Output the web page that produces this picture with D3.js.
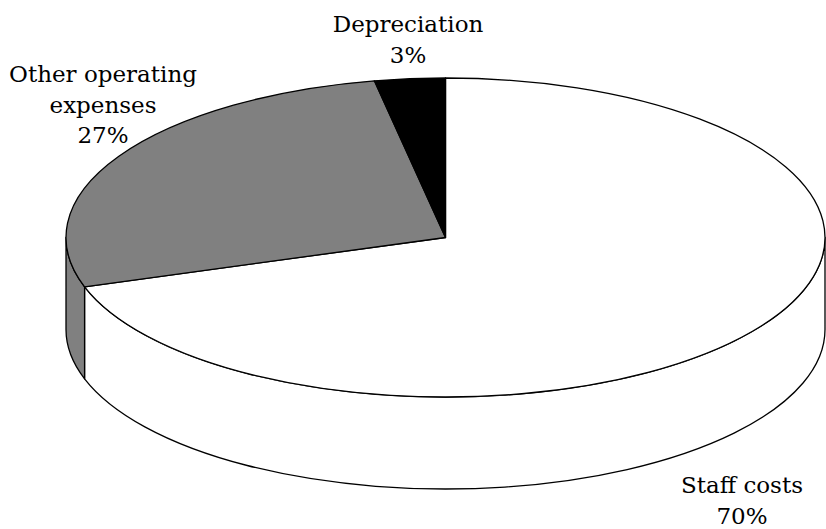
<!DOCTYPE html>
<html>
<head>
<meta charset="utf-8">
<script src="https://cdn.jsdelivr.net/npm/d3@7"></script>
<style>
  html, body { margin: 0; padding: 0; background: #fff; }
  svg { display: block; }
  text { font-family: "DejaVu Serif", serif; font-size: 23px; fill: #000; }
</style>
</head>
<body>
<svg id="chart" width="826" height="529"></svg>
<script>
// Cost breakdown (share of total, %)
const categories = ["Staff costs", "Other operating expenses", "Depreciation"];
const shares = [70, 27, 3];
const labelLines = [["Staff costs", "70%"], ["Other operating", "expenses", "27%"], ["Depreciation", "3%"]];
const fills = ["#ffffff", "#808080", "#000000"];

const W = 826, H = 529;
const cx = 445.5, cy = 237.5;   // centre of the top face
const rx = 379.5, ry = 159.5;   // ellipse radii of the tilted disc
const depth = 92;               // thickness of the disc

// label anchors (centre x, first baseline y)
const labelPos = [[742, 493], [103, 82], [408, 32]];
const lineGap = 30.5;

const svg = d3.select("#chart");

const pie = d3.pie().sort(null).value(d => d);
const arcs = pie(shares);

// point on the rim for a d3.pie angle (clockwise from 12 o'clock)
const pt = (a, dy = 0) => [cx + rx * Math.sin(a), cy - ry * Math.cos(a) + dy];

function topFace(d) {
  const p0 = pt(d.startAngle), p1 = pt(d.endAngle);
  const large = (d.endAngle - d.startAngle) > Math.PI ? 1 : 0;
  return `M${cx},${cy}L${p0[0]},${p0[1]}A${rx},${ry} 0 ${large} 1 ${p1[0]},${p1[1]}Z`;
}

// front wall: only the part of the rim between 90° and 270° faces the viewer
function sideWall(d) {
  const a = Math.max(d.startAngle, Math.PI / 2);
  const b = Math.min(d.endAngle, 3 * Math.PI / 2);
  if (b <= a) return null;
  const p0 = pt(a), p1 = pt(b), q1 = pt(b, depth), q0 = pt(a, depth);
  return `M${p0[0]},${p0[1]}A${rx},${ry} 0 0 1 ${p1[0]},${p1[1]}` +
         `L${q1[0]},${q1[1]}A${rx},${ry} 0 0 0 ${q0[0]},${q0[1]}Z`;
}

const g = svg.append("g");

g.selectAll("path.side")
  .data(arcs.filter(d => sideWall(d)))
  .join("path")
  .attr("class", "side")
  .attr("d", sideWall)
  .attr("fill", d => fills[d.index])
  .attr("stroke", "#000")
  .attr("stroke-width", 1.3)
  .attr("stroke-linejoin", "round");

g.selectAll("path.top")
  .data(arcs)
  .join("path")
  .attr("class", "top")
  .attr("d", topFace)
  .attr("fill", d => fills[d.index])
  .attr("stroke", "#000")
  .attr("stroke-width", 1.3)
  .attr("stroke-linejoin", "round");

const labels = svg.append("g").selectAll("text")
  .data(arcs)
  .join("text")
  .attr("text-anchor", "middle")
  .attr("x", d => labelPos[d.index][0])
  .attr("y", d => labelPos[d.index][1]);

labels.selectAll("tspan")
  .data(d => labelLines[d.index].map((t, i) => ({ t, i, x: labelPos[d.index][0] })))
  .join("tspan")
  .attr("x", d => d.x)
  .attr("dy", d => d.i === 0 ? 0 : lineGap)
  .text(d => d.t);
</script>
</body>
</html>
